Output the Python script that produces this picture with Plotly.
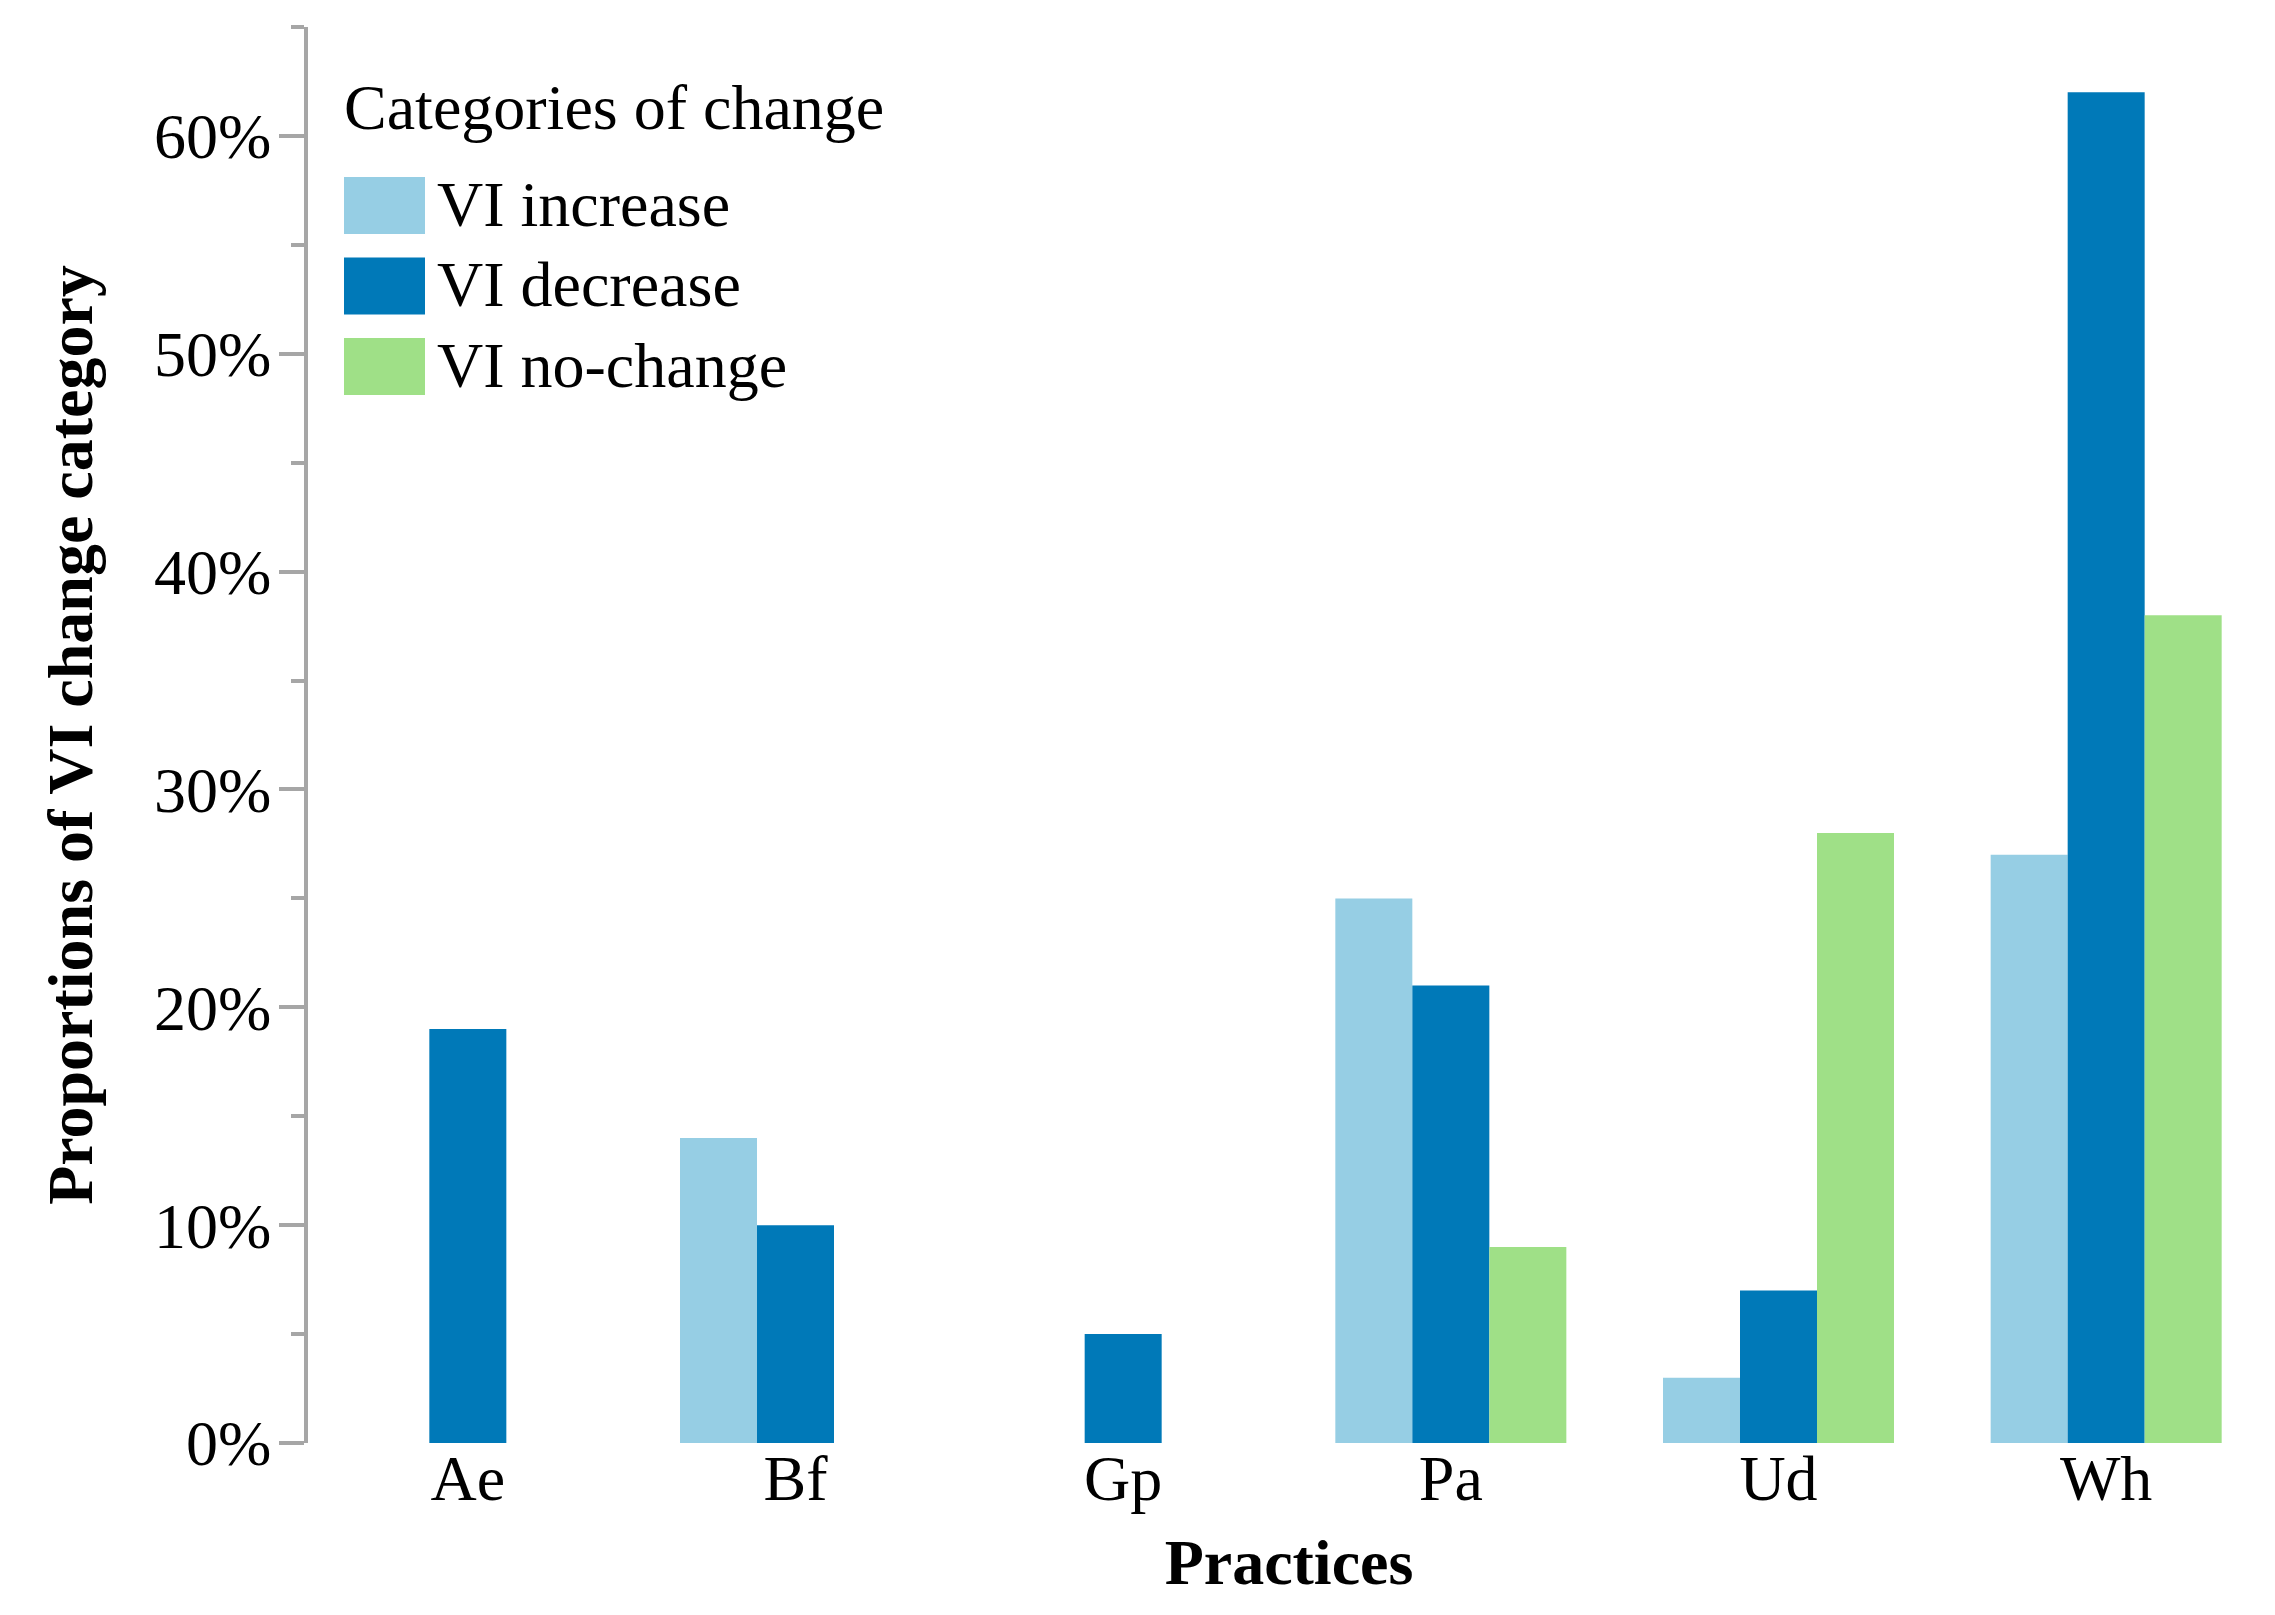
import plotly.graph_objects as go

# ---- data ----
categories = ["Ae", "Bf", "Gp", "Pa", "Ud", "Wh"]
series_names = ["VI increase", "VI decrease", "VI no-change"]
vi_increase = [0, 14, 0, 25, 3, 27]
vi_decrease = [19, 10, 5, 21, 7, 62]
vi_no_change = [0, 0, 0, 9, 28, 38]
series_colors = ["#96CEE4", "#0079B8", "#9FE087"]
y_tick_values = [0, 10, 20, 30, 40, 50, 60]
y_tick_labels = ["0%", "10%", "20%", "30%", "40%", "50%", "60%"]
legend_title = "Categories of change"
x_title = "Practices"
y_title = "Proportions of VI change category"

series_values = [vi_increase, vi_decrease, vi_no_change]

W, H = 2275, 1615
OFF = 8  # page body margin offset
# desired page-pixel plot box: left 308, right 2270, top 27, bottom 1443
ML, MR, MT, MB = 308 - OFF, 5 + OFF, 27 - OFF, 172 + OFF
FONT = "Liberation Serif, Times New Roman, serif"
AXIS_GREY = "#A6A6A6"
FS = 64


def px_x(px):
    return (px - OFF - ML) / (W - ML - MR)


def px_y(py):
    return (H - MB - (py - OFF)) / (H - MT - MB)


fig = go.Figure()
for name, vals, col in zip(series_names, series_values, series_colors):
    fig.add_trace(go.Bar(
        x=categories, y=vals, name=name,
        marker=dict(color=col, line=dict(width=0)),
        showlegend=False,
    ))

# custom legend (large swatches as in the reference)
sw_x0, sw_x1 = 344, 425
sw_top0, sw_h, sw_step = 177, 57, 80.5
for i, (name, col) in enumerate(zip(series_names, series_colors)):
    top = sw_top0 + i * sw_step
    fig.add_shape(type="rect", xref="paper", yref="paper",
                  x0=px_x(sw_x0), x1=px_x(sw_x1),
                  y0=px_y(top + sw_h), y1=px_y(top),
                  fillcolor=col, line=dict(width=0), layer="above")
    fig.add_annotation(xref="paper", yref="paper",
                       x=px_x(435), y=px_y(top + sw_h / 2 - 1),
                       xanchor="left", yanchor="middle", showarrow=False,
                       text=name, font=dict(family=FONT, size=FS, color="black"))
fig.add_annotation(xref="paper", yref="paper",
                   x=px_x(342), y=px_y(107),
                   xanchor="left", yanchor="middle", showarrow=False,
                   text=legend_title, font=dict(family=FONT, size=FS, color="black"))

fig.update_layout(
    width=W, height=H,
    margin=dict(l=ML, r=MR, t=MT, b=MB),
    paper_bgcolor="white", plot_bgcolor="white",
    barmode="group", bargap=0.295, bargroupgap=0,
    font=dict(family=FONT, size=FS, color="black"),
    showlegend=False,
)
fig.update_xaxes(
    type="category", range=[-0.4878, 5.5],
    showline=False, showgrid=False, zeroline=False, ticks="",
    ticklabelstandoff=-8,
    tickfont=dict(family=FONT, size=FS, color="black"),
    title=dict(text=x_title, standoff=26,
               font=dict(family=FONT, size=FS, color="black", weight="bold")),
)
fig.update_yaxes(
    range=[0, 65], tickvals=y_tick_values, ticktext=y_tick_labels,
    showline=True, linecolor=AXIS_GREY, linewidth=4,
    showgrid=False, zeroline=False,
    ticks="outside", ticklen=25, tickwidth=4, tickcolor=AXIS_GREY,
    ticklabelstandoff=-5,
    minor=dict(dtick=5, tick0=0, ticks="outside", ticklen=13, tickwidth=4, tickcolor=AXIS_GREY),
    tickfont=dict(family=FONT, size=FS, color="black"),
    title=dict(text=y_title, standoff=41,
               font=dict(family=FONT, size=FS, color="black", weight="bold")),
)

fig.write_html("out.html")
